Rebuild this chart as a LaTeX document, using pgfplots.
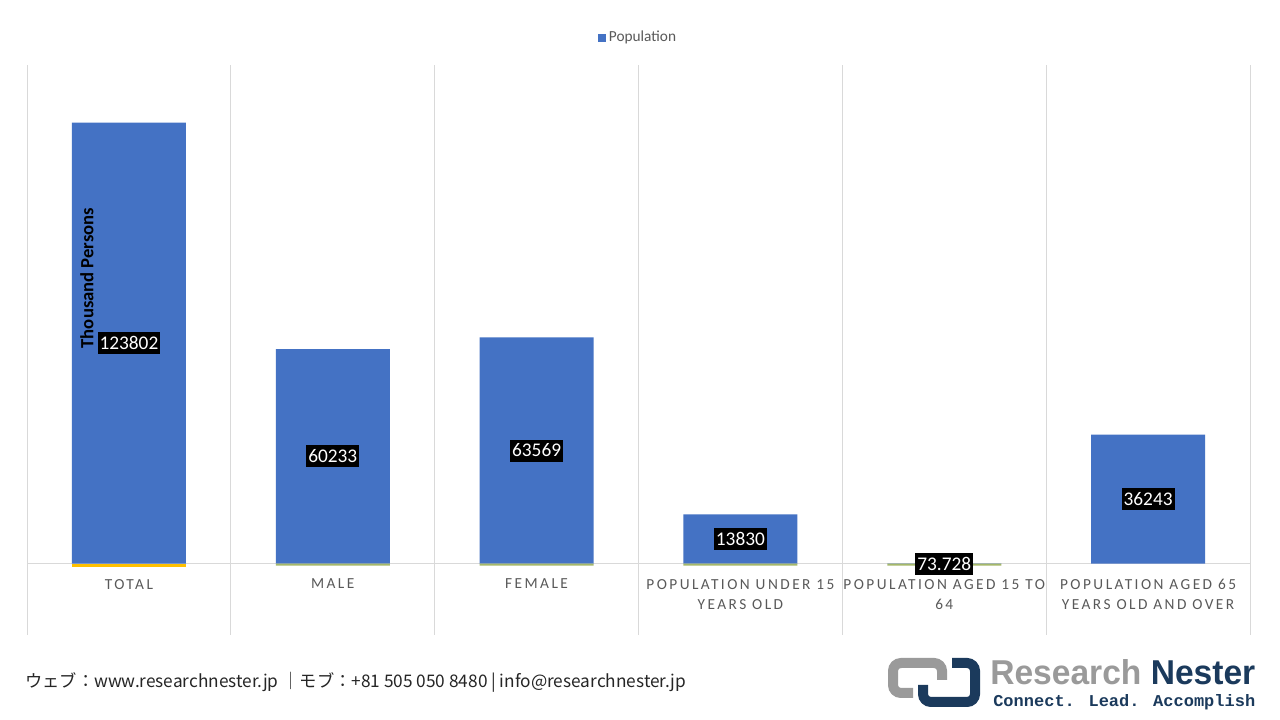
\documentclass[border=0pt]{standalone}
\usepackage{pgfplots}
\pgfplotsset{compat=1.18}
\usepackage{fontspec}
\usepackage{graphicx}
\setmainfont{Carlito}
\newfontfamily\tickfont[LetterSpace=16]{Carlito}
\newfontfamily\jpfont{Noto Sans CJK JP}
\newfontfamily\logofont{Liberation Sans}
\newfontfamily\tagfont{Liberation Mono}
\definecolor{barblue}{HTML}{4472C4}
\definecolor{baryellow}{HTML}{FFC000}
\definecolor{barolive}{HTML}{A5B86A}
\definecolor{gridgrey}{HTML}{D9D9D9}
\definecolor{labgrey}{HTML}{595959}
\definecolor{footgrey}{HTML}{262626}
\definecolor{logogrey}{HTML}{9A9A9A}
\definecolor{logonavy}{HTML}{1B3A5C}
\begin{document}
\begin{tikzpicture}[x=0.75pt,y=0.75pt]
\fill[white] (0,0) rectangle (1280,720);
\path[use as bounding box] (0,0) rectangle (1280,720);
\begin{axis}[
  at={(20.25pt,63.75pt)}, anchor=south west,
  width=917.25pt, height=427.5pt, scale only axis,
  xmin=-0.5, xmax=5.5, ymin=-20000, ymax=140000,
  axis x line=middle, axis y line=none,
  x axis line style={-, draw=gridgrey, line width=0.75pt},
  xtick={0,...,5},
  xticklabels={TOTAL, MALE, FEMALE, {POPULATION UNDER 15\\YEARS OLD}, {POPULATION AGED 15 TO\\64}, {POPULATION AGED 65\\YEARS OLD AND OVER}},
  xticklabel style={font=\tickfont\fontsize{11.5}{15}\selectfont, text=labgrey, align=center, anchor=north, yshift=-8pt},
  major tick length=0pt, minor tick length=0pt,
  minor xtick={-0.5,0.5,...,5.5},
  xminorgrids=true, minor grid style={gridgrey, line width=0.75pt},
  legend style={at={(0.5,1)}, anchor=center, yshift=20.5pt, draw=none, fill=none,
    font=\fontsize{11.5}{13}\selectfont, text=labgrey, inner sep=1pt},
]
\addplot[ybar, bar width=85.5pt, bar shift=0pt, fill=barblue, draw=none,
  legend image code/.code={\fill[barblue] (0pt,-3pt) rectangle (6pt,3pt);}]
  coordinates {(0,123802) (1,60233) (2,63569) (3,13830) (4,73.728) (5,36243)};
\addlegendentry{Population}
\addplot[ybar, bar width=85.5pt, bar shift=0pt, fill=baryellow, draw=none, forget plot]
  coordinates {(0,-800)};
\addplot[ybar, bar width=85.5pt, bar shift=0pt, fill=barolive, draw=none, forget plot]
  coordinates {(1,-500) (2,-500) (3,-500) (4,-500)};
\addplot[draw=none, mark=none, forget plot, nodes near coords, point meta=explicit symbolic,
  every node near coord/.style={anchor=center, fill=black, text=white,
    font=\fontsize{14.5}{16}\selectfont, inner xsep=1.5pt, inner ysep=3.3pt}]
  coordinates {(0,61901)[123802] (1,30116.5)[60233] (2,31784.5)[63569] (3,6915)[13830] (4,36.864)[73.728] (5,18121.5)[36243]};
\end{axis}
\node[rotate=90, font=\bfseries\fontsize{14}{16}\selectfont, text=black] at (87,442) {Thousand Persons};
\node[anchor=west, inner sep=0pt, text=footgrey] at (25,38) {\resizebox{495.75pt}{\height}{\jpfont\fontsize{13}{15}\selectfont ウェブ：www.researchnester.jp ｜モブ：+81 505 050 8480 | info@researchnester.jp}};
\draw[logogrey, line width=7.5pt, rounded corners=6pt] (942,40) -- (942,57) -- (893,57) -- (893,27) -- (913,27);
\draw[logonavy, line width=7.5pt, rounded corners=6pt] (952,57) -- (975,57) -- (975,18) -- (923,18) -- (923,35);
\node[anchor=base west, inner sep=0pt] at (990,35) {\resizebox{198.75pt}{18.75pt}{\logofont\bfseries\textcolor{logogrey}{Research} \textcolor{logonavy}{Nester}}};
\node[anchor=base west, inner sep=0pt] at (993,13) {\resizebox{196.5pt}{9pt}{\tagfont\bfseries\textcolor{logonavy}{Connect. Lead. Accomplish}}};
\end{tikzpicture}
\end{document}
